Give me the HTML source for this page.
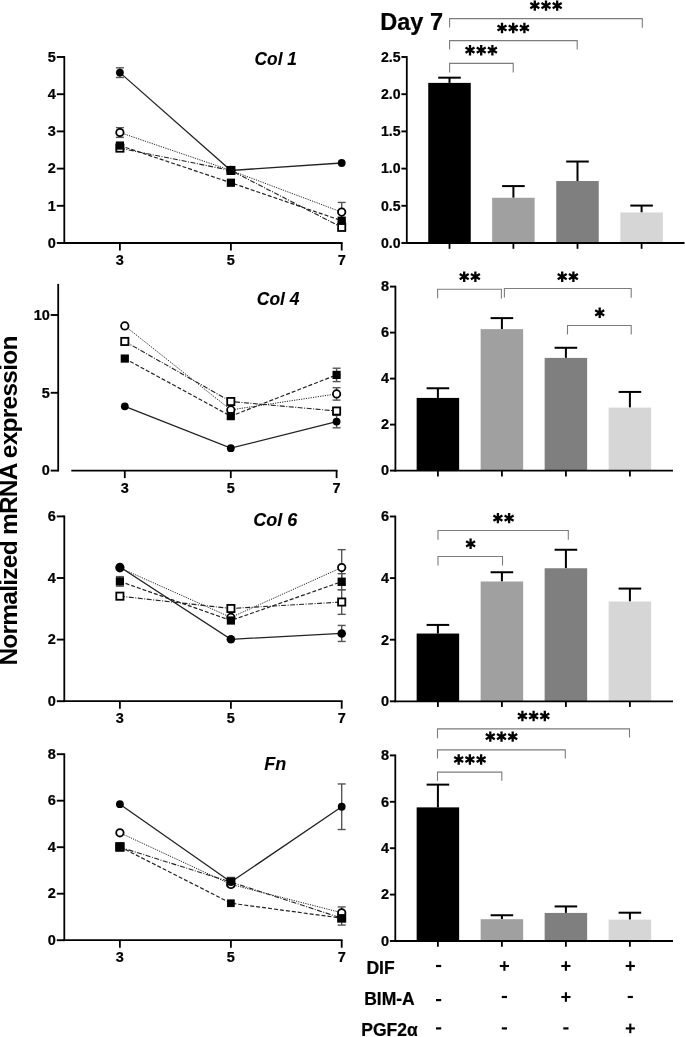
<!DOCTYPE html>
<html><head><meta charset="utf-8"><style>
html,body{margin:0;padding:0;background:#fff;}
body{width:685px;height:1037px;overflow:hidden;}
svg{display:block;will-change:transform;}
</style></head><body>
<svg width="685" height="1037" viewBox="0 0 685 1037" font-family='"Liberation Sans", sans-serif'>
<rect width="685" height="1037" fill="#fff"/>
<line x1="64.3" y1="56.1" x2="64.3" y2="243.9" stroke="#000" stroke-width="1.8" />
<line x1="56.8" y1="243" x2="64.3" y2="243" stroke="#000" stroke-width="1.9" />
<text x="55.9" y="247.7" font-size="14.5" text-anchor="end" font-weight="bold" font-style="normal" stroke="#000" stroke-width="0.22" >0</text>
<line x1="56.8" y1="205.8" x2="64.3" y2="205.8" stroke="#000" stroke-width="1.9" />
<text x="55.9" y="210.5" font-size="14.5" text-anchor="end" font-weight="bold" font-style="normal" stroke="#000" stroke-width="0.22" >1</text>
<line x1="56.8" y1="168.6" x2="64.3" y2="168.6" stroke="#000" stroke-width="1.9" />
<text x="55.9" y="173.3" font-size="14.5" text-anchor="end" font-weight="bold" font-style="normal" stroke="#000" stroke-width="0.22" >2</text>
<line x1="56.8" y1="131.4" x2="64.3" y2="131.4" stroke="#000" stroke-width="1.9" />
<text x="55.9" y="136.1" font-size="14.5" text-anchor="end" font-weight="bold" font-style="normal" stroke="#000" stroke-width="0.22" >3</text>
<line x1="56.8" y1="94.2" x2="64.3" y2="94.2" stroke="#000" stroke-width="1.9" />
<text x="55.9" y="98.9" font-size="14.5" text-anchor="end" font-weight="bold" font-style="normal" stroke="#000" stroke-width="0.22" >4</text>
<line x1="56.8" y1="57" x2="64.3" y2="57" stroke="#000" stroke-width="1.9" />
<text x="55.9" y="61.7" font-size="14.5" text-anchor="end" font-weight="bold" font-style="normal" stroke="#000" stroke-width="0.22" >5</text>
<line x1="63.4" y1="243" x2="342.6" y2="243" stroke="#000" stroke-width="1.8" />
<line x1="119.9" y1="243" x2="119.9" y2="250.5" stroke="#000" stroke-width="1.8" />
<text x="119.9" y="265" font-size="14.5" text-anchor="middle" font-weight="bold" font-style="normal" stroke="#000" stroke-width="0.22" >3</text>
<line x1="230.9" y1="243" x2="230.9" y2="250.5" stroke="#000" stroke-width="1.8" />
<text x="230.9" y="265" font-size="14.5" text-anchor="middle" font-weight="bold" font-style="normal" stroke="#000" stroke-width="0.22" >5</text>
<line x1="341.7" y1="243" x2="341.7" y2="250.5" stroke="#000" stroke-width="1.8" />
<text x="341.7" y="265" font-size="14.5" text-anchor="middle" font-weight="bold" font-style="normal" stroke="#000" stroke-width="0.22" >7</text>
<text x="254.6" y="64.7" font-size="18" font-weight="bold" font-style="italic" stroke="#000" stroke-width="0.1" textLength="42.3" lengthAdjust="spacingAndGlyphs">Col 1</text>
<polyline points="119.9,148.14 230.9,170.46 341.7,227.38" fill="none" stroke="#222" stroke-width="1.1" stroke-dasharray="5 1.5 1 1.5"/>
<polyline points="119.9,145.54 230.9,182.74 341.7,220.68" fill="none" stroke="#222" stroke-width="1.2" stroke-dasharray="4 2"/>
<polyline points="119.9,132.52 230.9,170.46 341.7,212.12" fill="none" stroke="#222" stroke-width="1.0" stroke-dasharray="1.2 1.2"/>
<polyline points="119.9,72.62 230.9,170.46 341.7,163.02" fill="none" stroke="#222" stroke-width="1.3" />
<line x1="119.9" y1="127.68" x2="119.9" y2="137.35" stroke="#555" stroke-width="1.4" />
<line x1="115.9" y1="127.68" x2="123.9" y2="127.68" stroke="#555" stroke-width="1.4" />
<line x1="115.9" y1="137.35" x2="123.9" y2="137.35" stroke="#555" stroke-width="1.4" />
<line x1="341.7" y1="202.45" x2="341.7" y2="221.8" stroke="#555" stroke-width="1.4" />
<line x1="337.7" y1="202.45" x2="345.7" y2="202.45" stroke="#555" stroke-width="1.4" />
<line x1="337.7" y1="221.8" x2="345.7" y2="221.8" stroke="#555" stroke-width="1.4" />
<line x1="119.9" y1="67.79" x2="119.9" y2="77.46" stroke="#555" stroke-width="1.4" />
<line x1="115.9" y1="67.79" x2="123.9" y2="67.79" stroke="#555" stroke-width="1.4" />
<line x1="115.9" y1="77.46" x2="123.9" y2="77.46" stroke="#555" stroke-width="1.4" />
<rect x="116.3" y="144.54" width="7.2" height="7.2" fill="#fff" stroke="#000" stroke-width="1.8"/>
<rect x="227.3" y="166.86" width="7.2" height="7.2" fill="#fff" stroke="#000" stroke-width="1.8"/>
<rect x="338.1" y="223.78" width="7.2" height="7.2" fill="#fff" stroke="#000" stroke-width="1.8"/>
<circle cx="119.9" cy="132.52" r="3.7" fill="#fff" stroke="#000" stroke-width="1.8"/>
<circle cx="230.9" cy="170.46" r="3.7" fill="#fff" stroke="#000" stroke-width="1.8"/>
<circle cx="341.7" cy="212.12" r="3.7" fill="#fff" stroke="#000" stroke-width="1.8"/>
<rect x="115.8" y="141.44" width="8.2" height="8.2" fill="#000"/>
<rect x="226.8" y="178.64" width="8.2" height="8.2" fill="#000"/>
<rect x="337.6" y="216.58" width="8.2" height="8.2" fill="#000"/>
<circle cx="119.9" cy="72.62" r="3.9" fill="#000"/>
<circle cx="230.9" cy="170.46" r="3.9" fill="#000"/>
<circle cx="341.7" cy="163.02" r="3.9" fill="#000"/>
<line x1="58.2" y1="283.88" x2="58.2" y2="471.5" stroke="#000" stroke-width="1.8" />
<line x1="50.7" y1="470.6" x2="58.2" y2="470.6" stroke="#000" stroke-width="1.9" />
<text x="49.8" y="475.3" font-size="14.5" text-anchor="end" font-weight="bold" font-style="normal" stroke="#000" stroke-width="0.22" >0</text>
<line x1="50.7" y1="392.8" x2="58.2" y2="392.8" stroke="#000" stroke-width="1.9" />
<text x="49.8" y="397.5" font-size="14.5" text-anchor="end" font-weight="bold" font-style="normal" stroke="#000" stroke-width="0.22" >5</text>
<line x1="50.7" y1="315" x2="58.2" y2="315" stroke="#000" stroke-width="1.9" />
<text x="49.8" y="319.7" font-size="14.5" text-anchor="end" font-weight="bold" font-style="normal" stroke="#000" stroke-width="0.22" >10</text>
<line x1="71.3" y1="470.6" x2="337.5" y2="470.6" stroke="#000" stroke-width="1.8" />
<line x1="124.8" y1="470.6" x2="124.8" y2="478.1" stroke="#000" stroke-width="1.8" />
<text x="124.8" y="492.6" font-size="14.5" text-anchor="middle" font-weight="bold" font-style="normal" stroke="#000" stroke-width="0.22" >3</text>
<line x1="230.8" y1="470.6" x2="230.8" y2="478.1" stroke="#000" stroke-width="1.8" />
<text x="230.8" y="492.6" font-size="14.5" text-anchor="middle" font-weight="bold" font-style="normal" stroke="#000" stroke-width="0.22" >5</text>
<line x1="336.6" y1="470.6" x2="336.6" y2="478.1" stroke="#000" stroke-width="1.8" />
<text x="336.6" y="492.6" font-size="14.5" text-anchor="middle" font-weight="bold" font-style="normal" stroke="#000" stroke-width="0.22" >7</text>
<text x="256.8" y="304.7" font-size="18" font-weight="bold" font-style="italic" stroke="#000" stroke-width="0.1" textLength="42.6" lengthAdjust="spacingAndGlyphs">Col 4</text>
<polyline points="124.8,341.45 230.8,401.51 336.6,411.01" fill="none" stroke="#222" stroke-width="1.1" stroke-dasharray="5 1.5 1 1.5"/>
<polyline points="124.8,358.57 230.8,416.14 336.6,374.91" fill="none" stroke="#222" stroke-width="1.2" stroke-dasharray="4 2"/>
<polyline points="124.8,325.89 230.8,409.92 336.6,393.89" fill="none" stroke="#222" stroke-width="1.0" stroke-dasharray="1.2 1.2"/>
<polyline points="124.8,406.34 230.8,448.19 336.6,421.59" fill="none" stroke="#222" stroke-width="1.3" />
<line x1="336.6" y1="368.22" x2="336.6" y2="381.6" stroke="#555" stroke-width="1.4" />
<line x1="332.6" y1="368.22" x2="340.6" y2="368.22" stroke="#555" stroke-width="1.4" />
<line x1="332.6" y1="381.6" x2="340.6" y2="381.6" stroke="#555" stroke-width="1.4" />
<line x1="336.6" y1="387.67" x2="336.6" y2="400.11" stroke="#555" stroke-width="1.4" />
<line x1="332.6" y1="387.67" x2="340.6" y2="387.67" stroke="#555" stroke-width="1.4" />
<line x1="332.6" y1="400.11" x2="340.6" y2="400.11" stroke="#555" stroke-width="1.4" />
<line x1="336.6" y1="415.36" x2="336.6" y2="427.81" stroke="#555" stroke-width="1.4" />
<line x1="332.6" y1="415.36" x2="340.6" y2="415.36" stroke="#555" stroke-width="1.4" />
<line x1="332.6" y1="427.81" x2="340.6" y2="427.81" stroke="#555" stroke-width="1.4" />
<rect x="121.2" y="337.85" width="7.2" height="7.2" fill="#fff" stroke="#000" stroke-width="1.8"/>
<rect x="227.2" y="397.91" width="7.2" height="7.2" fill="#fff" stroke="#000" stroke-width="1.8"/>
<rect x="333" y="407.41" width="7.2" height="7.2" fill="#fff" stroke="#000" stroke-width="1.8"/>
<circle cx="124.8" cy="325.89" r="3.7" fill="#fff" stroke="#000" stroke-width="1.8"/>
<circle cx="230.8" cy="409.92" r="3.7" fill="#fff" stroke="#000" stroke-width="1.8"/>
<circle cx="336.6" cy="393.89" r="3.7" fill="#fff" stroke="#000" stroke-width="1.8"/>
<rect x="120.7" y="354.47" width="8.2" height="8.2" fill="#000"/>
<rect x="226.7" y="412.04" width="8.2" height="8.2" fill="#000"/>
<rect x="332.5" y="370.81" width="8.2" height="8.2" fill="#000"/>
<circle cx="124.8" cy="406.34" r="3.9" fill="#000"/>
<circle cx="230.8" cy="448.19" r="3.9" fill="#000"/>
<circle cx="336.6" cy="421.59" r="3.9" fill="#000"/>
<line x1="64.3" y1="515.5" x2="64.3" y2="702.1" stroke="#000" stroke-width="1.8" />
<line x1="56.8" y1="701.2" x2="64.3" y2="701.2" stroke="#000" stroke-width="1.9" />
<text x="55.9" y="705.9" font-size="14.5" text-anchor="end" font-weight="bold" font-style="normal" stroke="#000" stroke-width="0.22" >0</text>
<line x1="56.8" y1="639.6" x2="64.3" y2="639.6" stroke="#000" stroke-width="1.9" />
<text x="55.9" y="644.3" font-size="14.5" text-anchor="end" font-weight="bold" font-style="normal" stroke="#000" stroke-width="0.22" >2</text>
<line x1="56.8" y1="578" x2="64.3" y2="578" stroke="#000" stroke-width="1.9" />
<text x="55.9" y="582.7" font-size="14.5" text-anchor="end" font-weight="bold" font-style="normal" stroke="#000" stroke-width="0.22" >4</text>
<line x1="56.8" y1="516.4" x2="64.3" y2="516.4" stroke="#000" stroke-width="1.9" />
<text x="55.9" y="521.1" font-size="14.5" text-anchor="end" font-weight="bold" font-style="normal" stroke="#000" stroke-width="0.22" >6</text>
<line x1="63.4" y1="701.2" x2="342.6" y2="701.2" stroke="#000" stroke-width="1.8" />
<line x1="119.9" y1="701.2" x2="119.9" y2="708.7" stroke="#000" stroke-width="1.8" />
<text x="119.9" y="723.2" font-size="14.5" text-anchor="middle" font-weight="bold" font-style="normal" stroke="#000" stroke-width="0.22" >3</text>
<line x1="230.9" y1="701.2" x2="230.9" y2="708.7" stroke="#000" stroke-width="1.8" />
<text x="230.9" y="723.2" font-size="14.5" text-anchor="middle" font-weight="bold" font-style="normal" stroke="#000" stroke-width="0.22" >5</text>
<line x1="341.7" y1="701.2" x2="341.7" y2="708.7" stroke="#000" stroke-width="1.8" />
<text x="341.7" y="723.2" font-size="14.5" text-anchor="middle" font-weight="bold" font-style="normal" stroke="#000" stroke-width="0.22" >7</text>
<text x="253.3" y="525.6" font-size="18" font-weight="bold" font-style="italic" stroke="#000" stroke-width="0.1" textLength="44" lengthAdjust="spacingAndGlyphs">Col 6</text>
<polyline points="119.9,596.17 230.9,608.49 341.7,602.02" fill="none" stroke="#222" stroke-width="1.1" stroke-dasharray="5 1.5 1 1.5"/>
<polyline points="119.9,581.39 230.9,620.5 341.7,581.7" fill="none" stroke="#222" stroke-width="1.2" stroke-dasharray="4 2"/>
<polyline points="119.9,567.84 230.9,617.42 341.7,567.53" fill="none" stroke="#222" stroke-width="1.0" stroke-dasharray="1.2 1.2"/>
<polyline points="119.9,567.07 230.9,639.29 341.7,633.44" fill="none" stroke="#222" stroke-width="1.3" />
<line x1="341.7" y1="589.7" x2="341.7" y2="614.34" stroke="#555" stroke-width="1.4" />
<line x1="337.7" y1="589.7" x2="345.7" y2="589.7" stroke="#555" stroke-width="1.4" />
<line x1="337.7" y1="614.34" x2="345.7" y2="614.34" stroke="#555" stroke-width="1.4" />
<line x1="119.9" y1="576.61" x2="119.9" y2="586.16" stroke="#555" stroke-width="1.4" />
<line x1="115.9" y1="576.61" x2="123.9" y2="576.61" stroke="#555" stroke-width="1.4" />
<line x1="115.9" y1="586.16" x2="123.9" y2="586.16" stroke="#555" stroke-width="1.4" />
<line x1="341.7" y1="573.69" x2="341.7" y2="589.7" stroke="#555" stroke-width="1.4" />
<line x1="337.7" y1="573.69" x2="345.7" y2="573.69" stroke="#555" stroke-width="1.4" />
<line x1="337.7" y1="589.7" x2="345.7" y2="589.7" stroke="#555" stroke-width="1.4" />
<line x1="341.7" y1="549.66" x2="341.7" y2="585.39" stroke="#555" stroke-width="1.4" />
<line x1="337.7" y1="549.66" x2="345.7" y2="549.66" stroke="#555" stroke-width="1.4" />
<line x1="337.7" y1="585.39" x2="345.7" y2="585.39" stroke="#555" stroke-width="1.4" />
<line x1="341.7" y1="625.43" x2="341.7" y2="641.45" stroke="#555" stroke-width="1.4" />
<line x1="337.7" y1="625.43" x2="345.7" y2="625.43" stroke="#555" stroke-width="1.4" />
<line x1="337.7" y1="641.45" x2="345.7" y2="641.45" stroke="#555" stroke-width="1.4" />
<rect x="116.3" y="592.57" width="7.2" height="7.2" fill="#fff" stroke="#000" stroke-width="1.8"/>
<rect x="227.3" y="604.89" width="7.2" height="7.2" fill="#fff" stroke="#000" stroke-width="1.8"/>
<rect x="338.1" y="598.42" width="7.2" height="7.2" fill="#fff" stroke="#000" stroke-width="1.8"/>
<circle cx="119.9" cy="567.84" r="3.7" fill="#fff" stroke="#000" stroke-width="1.8"/>
<circle cx="230.9" cy="617.42" r="3.7" fill="#fff" stroke="#000" stroke-width="1.8"/>
<circle cx="341.7" cy="567.53" r="3.7" fill="#fff" stroke="#000" stroke-width="1.8"/>
<rect x="115.8" y="577.29" width="8.2" height="8.2" fill="#000"/>
<rect x="226.8" y="616.4" width="8.2" height="8.2" fill="#000"/>
<rect x="337.6" y="577.6" width="8.2" height="8.2" fill="#000"/>
<circle cx="119.9" cy="567.07" r="4.3" fill="#000"/>
<circle cx="230.9" cy="639.29" r="4.3" fill="#000"/>
<circle cx="341.7" cy="633.44" r="4.3" fill="#000"/>
<line x1="64.3" y1="753.3" x2="64.3" y2="941.1" stroke="#000" stroke-width="1.8" />
<line x1="56.8" y1="940.2" x2="64.3" y2="940.2" stroke="#000" stroke-width="1.9" />
<text x="55.9" y="944.9" font-size="14.5" text-anchor="end" font-weight="bold" font-style="normal" stroke="#000" stroke-width="0.22" >0</text>
<line x1="56.8" y1="893.7" x2="64.3" y2="893.7" stroke="#000" stroke-width="1.9" />
<text x="55.9" y="898.4" font-size="14.5" text-anchor="end" font-weight="bold" font-style="normal" stroke="#000" stroke-width="0.22" >2</text>
<line x1="56.8" y1="847.2" x2="64.3" y2="847.2" stroke="#000" stroke-width="1.9" />
<text x="55.9" y="851.9" font-size="14.5" text-anchor="end" font-weight="bold" font-style="normal" stroke="#000" stroke-width="0.22" >4</text>
<line x1="56.8" y1="800.7" x2="64.3" y2="800.7" stroke="#000" stroke-width="1.9" />
<text x="55.9" y="805.4" font-size="14.5" text-anchor="end" font-weight="bold" font-style="normal" stroke="#000" stroke-width="0.22" >6</text>
<line x1="56.8" y1="754.2" x2="64.3" y2="754.2" stroke="#000" stroke-width="1.9" />
<text x="55.9" y="758.9" font-size="14.5" text-anchor="end" font-weight="bold" font-style="normal" stroke="#000" stroke-width="0.22" >8</text>
<line x1="63.4" y1="940.2" x2="342.6" y2="940.2" stroke="#000" stroke-width="1.8" />
<line x1="119.9" y1="940.2" x2="119.9" y2="947.7" stroke="#000" stroke-width="1.8" />
<text x="119.9" y="962.2" font-size="14.5" text-anchor="middle" font-weight="bold" font-style="normal" stroke="#000" stroke-width="0.22" >3</text>
<line x1="230.9" y1="940.2" x2="230.9" y2="947.7" stroke="#000" stroke-width="1.8" />
<text x="230.9" y="962.2" font-size="14.5" text-anchor="middle" font-weight="bold" font-style="normal" stroke="#000" stroke-width="0.22" >5</text>
<line x1="341.7" y1="940.2" x2="341.7" y2="947.7" stroke="#000" stroke-width="1.8" />
<text x="341.7" y="962.2" font-size="14.5" text-anchor="middle" font-weight="bold" font-style="normal" stroke="#000" stroke-width="0.22" >7</text>
<text x="264.3" y="769.7" font-size="18" font-weight="bold" font-style="italic" stroke="#000" stroke-width="0.1">Fn</text>
<polyline points="119.9,847.2 230.9,882.08 341.7,918.11" fill="none" stroke="#222" stroke-width="1.1" stroke-dasharray="5 1.5 1 1.5"/>
<polyline points="119.9,846.74 230.9,903.23 341.7,918.11" fill="none" stroke="#222" stroke-width="1.2" stroke-dasharray="4 2"/>
<polyline points="119.9,832.79 230.9,884.4 341.7,912.77" fill="none" stroke="#222" stroke-width="1.0" stroke-dasharray="1.2 1.2"/>
<polyline points="119.9,804.19 230.9,882.08 341.7,806.75" fill="none" stroke="#222" stroke-width="1.3" />
<line x1="341.7" y1="911.14" x2="341.7" y2="925.09" stroke="#555" stroke-width="1.4" />
<line x1="337.7" y1="911.14" x2="345.7" y2="911.14" stroke="#555" stroke-width="1.4" />
<line x1="337.7" y1="925.09" x2="345.7" y2="925.09" stroke="#555" stroke-width="1.4" />
<line x1="341.7" y1="906.95" x2="341.7" y2="918.58" stroke="#555" stroke-width="1.4" />
<line x1="337.7" y1="906.95" x2="345.7" y2="906.95" stroke="#555" stroke-width="1.4" />
<line x1="337.7" y1="918.58" x2="345.7" y2="918.58" stroke="#555" stroke-width="1.4" />
<line x1="230.9" y1="877.43" x2="230.9" y2="886.73" stroke="#555" stroke-width="1.4" />
<line x1="226.9" y1="877.43" x2="234.9" y2="877.43" stroke="#555" stroke-width="1.4" />
<line x1="226.9" y1="886.73" x2="234.9" y2="886.73" stroke="#555" stroke-width="1.4" />
<line x1="341.7" y1="783.96" x2="341.7" y2="829.53" stroke="#555" stroke-width="1.4" />
<line x1="337.7" y1="783.96" x2="345.7" y2="783.96" stroke="#555" stroke-width="1.4" />
<line x1="337.7" y1="829.53" x2="345.7" y2="829.53" stroke="#555" stroke-width="1.4" />
<rect x="116.3" y="843.6" width="7.2" height="7.2" fill="#fff" stroke="#000" stroke-width="1.8"/>
<rect x="227.3" y="878.48" width="7.2" height="7.2" fill="#fff" stroke="#000" stroke-width="1.8"/>
<rect x="338.1" y="914.51" width="7.2" height="7.2" fill="#fff" stroke="#000" stroke-width="1.8"/>
<circle cx="119.9" cy="832.79" r="3.7" fill="#fff" stroke="#000" stroke-width="1.8"/>
<circle cx="230.9" cy="884.4" r="3.7" fill="#fff" stroke="#000" stroke-width="1.8"/>
<circle cx="341.7" cy="912.77" r="3.7" fill="#fff" stroke="#000" stroke-width="1.8"/>
<rect x="115.3" y="842.13" width="9.2" height="9.2" fill="#000"/>
<rect x="227.05" y="899.38" width="7.7" height="7.7" fill="#000"/>
<rect x="337.7" y="914.11" width="8" height="8" fill="#000"/>
<circle cx="119.9" cy="804.19" r="3.9" fill="#000"/>
<circle cx="230.9" cy="882.08" r="3.9" fill="#000"/>
<circle cx="341.7" cy="806.75" r="3.9" fill="#000"/>
<line x1="449.5" y1="82.89" x2="449.5" y2="77.68" stroke="#000" stroke-width="2" />
<line x1="438.2" y1="77.68" x2="460.8" y2="77.68" stroke="#000" stroke-width="2" />
<rect x="428.25" y="82.89" width="42.5" height="160.11" fill="#000000"/>
<line x1="513.4" y1="197.76" x2="513.4" y2="186.08" stroke="#000" stroke-width="2" />
<line x1="502.1" y1="186.08" x2="524.7" y2="186.08" stroke="#000" stroke-width="2" />
<rect x="492.15" y="197.76" width="42.5" height="45.24" fill="#a0a0a0"/>
<line x1="577.5" y1="181.02" x2="577.5" y2="161.53" stroke="#000" stroke-width="2" />
<line x1="566.2" y1="161.53" x2="588.8" y2="161.53" stroke="#000" stroke-width="2" />
<rect x="556.25" y="181.02" width="42.5" height="61.98" fill="#7f7f7f"/>
<line x1="641.6" y1="212.5" x2="641.6" y2="205.58" stroke="#000" stroke-width="2" />
<line x1="630.3" y1="205.58" x2="652.9" y2="205.58" stroke="#000" stroke-width="2" />
<rect x="620.35" y="212.5" width="42.5" height="30.5" fill="#d6d6d6"/>
<line x1="406.8" y1="56.1" x2="406.8" y2="243.9" stroke="#000" stroke-width="1.8" />
<line x1="401.4" y1="243" x2="406.8" y2="243" stroke="#000" stroke-width="1.9" />
<text x="400.5" y="247.8" font-size="14.5" text-anchor="end" font-weight="bold" font-style="normal" stroke="#000" stroke-width="0.22" textLength="19.6" lengthAdjust="spacingAndGlyphs">0.0</text>
<line x1="401.4" y1="205.8" x2="406.8" y2="205.8" stroke="#000" stroke-width="1.9" />
<text x="400.5" y="210.6" font-size="14.5" text-anchor="end" font-weight="bold" font-style="normal" stroke="#000" stroke-width="0.22" textLength="19.6" lengthAdjust="spacingAndGlyphs">0.5</text>
<line x1="401.4" y1="168.6" x2="406.8" y2="168.6" stroke="#000" stroke-width="1.9" />
<text x="400.5" y="173.4" font-size="14.5" text-anchor="end" font-weight="bold" font-style="normal" stroke="#000" stroke-width="0.22" textLength="19.6" lengthAdjust="spacingAndGlyphs">1.0</text>
<line x1="401.4" y1="131.4" x2="406.8" y2="131.4" stroke="#000" stroke-width="1.9" />
<text x="400.5" y="136.2" font-size="14.5" text-anchor="end" font-weight="bold" font-style="normal" stroke="#000" stroke-width="0.22" textLength="19.6" lengthAdjust="spacingAndGlyphs">1.5</text>
<line x1="401.4" y1="94.2" x2="406.8" y2="94.2" stroke="#000" stroke-width="1.9" />
<text x="400.5" y="99" font-size="14.5" text-anchor="end" font-weight="bold" font-style="normal" stroke="#000" stroke-width="0.22" textLength="19.6" lengthAdjust="spacingAndGlyphs">2.0</text>
<line x1="401.4" y1="57" x2="406.8" y2="57" stroke="#000" stroke-width="1.9" />
<text x="400.5" y="61.8" font-size="14.5" text-anchor="end" font-weight="bold" font-style="normal" stroke="#000" stroke-width="0.22" textLength="19.6" lengthAdjust="spacingAndGlyphs">2.5</text>
<line x1="405.9" y1="243" x2="684.5" y2="243" stroke="#000" stroke-width="1.8" />
<line x1="449.5" y1="243" x2="449.5" y2="248.8" stroke="#000" stroke-width="1.8" />
<line x1="513.4" y1="243" x2="513.4" y2="248.8" stroke="#000" stroke-width="1.8" />
<line x1="577.5" y1="243" x2="577.5" y2="248.8" stroke="#000" stroke-width="1.8" />
<line x1="641.6" y1="243" x2="641.6" y2="248.8" stroke="#000" stroke-width="1.8" />
<line x1="437.9" y1="397.92" x2="437.9" y2="388.26" stroke="#000" stroke-width="2" />
<line x1="426.6" y1="388.26" x2="449.2" y2="388.26" stroke="#000" stroke-width="2" />
<rect x="416.65" y="397.92" width="42.5" height="72.68" fill="#000000"/>
<line x1="501.9" y1="329.15" x2="501.9" y2="318.11" stroke="#000" stroke-width="2" />
<line x1="490.6" y1="318.11" x2="513.2" y2="318.11" stroke="#000" stroke-width="2" />
<rect x="480.65" y="329.15" width="42.5" height="141.45" fill="#a0a0a0"/>
<line x1="565.9" y1="357.9" x2="565.9" y2="347.78" stroke="#000" stroke-width="2" />
<line x1="554.6" y1="347.78" x2="577.2" y2="347.78" stroke="#000" stroke-width="2" />
<rect x="544.65" y="357.9" width="42.5" height="112.7" fill="#7f7f7f"/>
<line x1="629.9" y1="407.58" x2="629.9" y2="391.94" stroke="#000" stroke-width="2" />
<line x1="618.6" y1="391.94" x2="641.2" y2="391.94" stroke="#000" stroke-width="2" />
<rect x="608.65" y="407.58" width="42.5" height="63.02" fill="#d6d6d6"/>
<line x1="395.4" y1="285.7" x2="395.4" y2="471.5" stroke="#000" stroke-width="1.8" />
<line x1="390" y1="470.6" x2="395.4" y2="470.6" stroke="#000" stroke-width="1.9" />
<text x="389.1" y="475.4" font-size="14.5" text-anchor="end" font-weight="bold" font-style="normal" stroke="#000" stroke-width="0.22" >0</text>
<line x1="390" y1="424.6" x2="395.4" y2="424.6" stroke="#000" stroke-width="1.9" />
<text x="389.1" y="429.4" font-size="14.5" text-anchor="end" font-weight="bold" font-style="normal" stroke="#000" stroke-width="0.22" >2</text>
<line x1="390" y1="378.6" x2="395.4" y2="378.6" stroke="#000" stroke-width="1.9" />
<text x="389.1" y="383.4" font-size="14.5" text-anchor="end" font-weight="bold" font-style="normal" stroke="#000" stroke-width="0.22" >4</text>
<line x1="390" y1="332.6" x2="395.4" y2="332.6" stroke="#000" stroke-width="1.9" />
<text x="389.1" y="337.4" font-size="14.5" text-anchor="end" font-weight="bold" font-style="normal" stroke="#000" stroke-width="0.22" >6</text>
<line x1="390" y1="286.6" x2="395.4" y2="286.6" stroke="#000" stroke-width="1.9" />
<text x="389.1" y="291.4" font-size="14.5" text-anchor="end" font-weight="bold" font-style="normal" stroke="#000" stroke-width="0.22" >8</text>
<line x1="394.5" y1="470.6" x2="673" y2="470.6" stroke="#000" stroke-width="1.8" />
<line x1="437.9" y1="470.6" x2="437.9" y2="476.4" stroke="#000" stroke-width="1.8" />
<line x1="501.9" y1="470.6" x2="501.9" y2="476.4" stroke="#000" stroke-width="1.8" />
<line x1="565.9" y1="470.6" x2="565.9" y2="476.4" stroke="#000" stroke-width="1.8" />
<line x1="629.9" y1="470.6" x2="629.9" y2="476.4" stroke="#000" stroke-width="1.8" />
<line x1="437.9" y1="633.54" x2="437.9" y2="624.92" stroke="#000" stroke-width="2" />
<line x1="426.6" y1="624.92" x2="449.2" y2="624.92" stroke="#000" stroke-width="2" />
<rect x="416.65" y="633.54" width="42.5" height="67.76" fill="#000000"/>
<line x1="501.9" y1="581.49" x2="501.9" y2="572.25" stroke="#000" stroke-width="2" />
<line x1="490.6" y1="572.25" x2="513.2" y2="572.25" stroke="#000" stroke-width="2" />
<rect x="480.65" y="581.49" width="42.5" height="119.81" fill="#a0a0a0"/>
<line x1="565.9" y1="568.24" x2="565.9" y2="549.76" stroke="#000" stroke-width="2" />
<line x1="554.6" y1="549.76" x2="577.2" y2="549.76" stroke="#000" stroke-width="2" />
<rect x="544.65" y="568.24" width="42.5" height="133.06" fill="#7f7f7f"/>
<line x1="629.9" y1="601.51" x2="629.9" y2="588.57" stroke="#000" stroke-width="2" />
<line x1="618.6" y1="588.57" x2="641.2" y2="588.57" stroke="#000" stroke-width="2" />
<rect x="608.65" y="601.51" width="42.5" height="99.79" fill="#d6d6d6"/>
<line x1="395.3" y1="515.6" x2="395.3" y2="702.2" stroke="#000" stroke-width="1.8" />
<line x1="389.9" y1="701.3" x2="395.3" y2="701.3" stroke="#000" stroke-width="1.9" />
<text x="389" y="706.1" font-size="14.5" text-anchor="end" font-weight="bold" font-style="normal" stroke="#000" stroke-width="0.22" >0</text>
<line x1="389.9" y1="639.7" x2="395.3" y2="639.7" stroke="#000" stroke-width="1.9" />
<text x="389" y="644.5" font-size="14.5" text-anchor="end" font-weight="bold" font-style="normal" stroke="#000" stroke-width="0.22" >2</text>
<line x1="389.9" y1="578.1" x2="395.3" y2="578.1" stroke="#000" stroke-width="1.9" />
<text x="389" y="582.9" font-size="14.5" text-anchor="end" font-weight="bold" font-style="normal" stroke="#000" stroke-width="0.22" >4</text>
<line x1="389.9" y1="516.5" x2="395.3" y2="516.5" stroke="#000" stroke-width="1.9" />
<text x="389" y="521.3" font-size="14.5" text-anchor="end" font-weight="bold" font-style="normal" stroke="#000" stroke-width="0.22" >6</text>
<line x1="394.4" y1="701.3" x2="673" y2="701.3" stroke="#000" stroke-width="1.8" />
<line x1="437.9" y1="701.3" x2="437.9" y2="707.1" stroke="#000" stroke-width="1.8" />
<line x1="501.9" y1="701.3" x2="501.9" y2="707.1" stroke="#000" stroke-width="1.8" />
<line x1="565.9" y1="701.3" x2="565.9" y2="707.1" stroke="#000" stroke-width="1.8" />
<line x1="629.9" y1="701.3" x2="629.9" y2="707.1" stroke="#000" stroke-width="1.8" />
<line x1="437.9" y1="807.37" x2="437.9" y2="784.63" stroke="#000" stroke-width="2" />
<line x1="426.6" y1="784.63" x2="449.2" y2="784.63" stroke="#000" stroke-width="2" />
<rect x="416.65" y="807.37" width="42.5" height="133.63" fill="#000000"/>
<line x1="501.9" y1="919.19" x2="501.9" y2="915.25" stroke="#000" stroke-width="2" />
<line x1="490.6" y1="915.25" x2="513.2" y2="915.25" stroke="#000" stroke-width="2" />
<rect x="480.65" y="919.19" width="42.5" height="21.81" fill="#a0a0a0"/>
<line x1="565.9" y1="912.93" x2="565.9" y2="906.43" stroke="#000" stroke-width="2" />
<line x1="554.6" y1="906.43" x2="577.2" y2="906.43" stroke="#000" stroke-width="2" />
<rect x="544.65" y="912.93" width="42.5" height="28.07" fill="#7f7f7f"/>
<line x1="629.9" y1="919.66" x2="629.9" y2="912.7" stroke="#000" stroke-width="2" />
<line x1="618.6" y1="912.7" x2="641.2" y2="912.7" stroke="#000" stroke-width="2" />
<rect x="608.65" y="919.66" width="42.5" height="21.34" fill="#d6d6d6"/>
<line x1="395.3" y1="754.5" x2="395.3" y2="941.9" stroke="#000" stroke-width="1.8" />
<line x1="389.9" y1="941" x2="395.3" y2="941" stroke="#000" stroke-width="1.9" />
<text x="389" y="945.8" font-size="14.5" text-anchor="end" font-weight="bold" font-style="normal" stroke="#000" stroke-width="0.22" >0</text>
<line x1="389.9" y1="894.6" x2="395.3" y2="894.6" stroke="#000" stroke-width="1.9" />
<text x="389" y="899.4" font-size="14.5" text-anchor="end" font-weight="bold" font-style="normal" stroke="#000" stroke-width="0.22" >2</text>
<line x1="389.9" y1="848.2" x2="395.3" y2="848.2" stroke="#000" stroke-width="1.9" />
<text x="389" y="853" font-size="14.5" text-anchor="end" font-weight="bold" font-style="normal" stroke="#000" stroke-width="0.22" >4</text>
<line x1="389.9" y1="801.8" x2="395.3" y2="801.8" stroke="#000" stroke-width="1.9" />
<text x="389" y="806.6" font-size="14.5" text-anchor="end" font-weight="bold" font-style="normal" stroke="#000" stroke-width="0.22" >6</text>
<line x1="389.9" y1="755.4" x2="395.3" y2="755.4" stroke="#000" stroke-width="1.9" />
<text x="389" y="760.2" font-size="14.5" text-anchor="end" font-weight="bold" font-style="normal" stroke="#000" stroke-width="0.22" >8</text>
<line x1="394.4" y1="941" x2="673" y2="941" stroke="#000" stroke-width="1.8" />
<line x1="437.9" y1="941" x2="437.9" y2="946.8" stroke="#000" stroke-width="1.8" />
<line x1="501.9" y1="941" x2="501.9" y2="946.8" stroke="#000" stroke-width="1.8" />
<line x1="565.9" y1="941" x2="565.9" y2="946.8" stroke="#000" stroke-width="1.8" />
<line x1="629.9" y1="941" x2="629.9" y2="946.8" stroke="#000" stroke-width="1.8" />
<path d="M449.6,27.6V18.6H642.3V27.8" fill="none" stroke="#7c7c7c" stroke-width="1.1"/>
<path d="M534.8,10.8L534.8,0.4M530.3,8.2L539.3,3M530.3,3L539.3,8.2" stroke="#000" stroke-width="2.3" fill="none"/>
<path d="M546,10.8L546,0.4M541.5,8.2L550.5,3M541.5,3L550.5,8.2" stroke="#000" stroke-width="2.3" fill="none"/>
<path d="M557.2,10.8L557.2,0.4M552.7,8.2L561.7,3M552.7,3L561.7,8.2" stroke="#000" stroke-width="2.3" fill="none"/>
<path d="M449.6,49.4V40.6H577.2V49.4" fill="none" stroke="#7c7c7c" stroke-width="1.1"/>
<path d="M502,33.2L502,22.8M497.5,30.6L506.5,25.4M497.5,25.4L506.5,30.6" stroke="#000" stroke-width="2.3" fill="none"/>
<path d="M513.2,33.2L513.2,22.8M508.7,30.6L517.7,25.4M508.7,25.4L517.7,30.6" stroke="#000" stroke-width="2.3" fill="none"/>
<path d="M524.4,33.2L524.4,22.8M519.9,30.6L528.9,25.4M519.9,25.4L528.9,30.6" stroke="#000" stroke-width="2.3" fill="none"/>
<path d="M449.6,72.6V63.4H513.2V72.6" fill="none" stroke="#7c7c7c" stroke-width="1.1"/>
<path d="M470,55.4L470,45M465.5,52.8L474.5,47.6M465.5,47.6L474.5,52.8" stroke="#000" stroke-width="2.3" fill="none"/>
<path d="M481.2,55.4L481.2,45M476.7,52.8L485.7,47.6M476.7,47.6L485.7,52.8" stroke="#000" stroke-width="2.3" fill="none"/>
<path d="M492.4,55.4L492.4,45M487.9,52.8L496.9,47.6M487.9,47.6L496.9,52.8" stroke="#000" stroke-width="2.3" fill="none"/>
<path d="M437.6,298.2V289.2H501.4V298.4" fill="none" stroke="#7c7c7c" stroke-width="1.1"/>
<path d="M464.2,281.9L464.2,271.5M459.7,279.3L468.7,274.1M459.7,274.1L468.7,279.3" stroke="#000" stroke-width="2.3" fill="none"/>
<path d="M475.4,281.9L475.4,271.5M470.9,279.3L479.9,274.1M470.9,274.1L479.9,279.3" stroke="#000" stroke-width="2.3" fill="none"/>
<path d="M504.4,297.5V288.5H631.2V297.7" fill="none" stroke="#7c7c7c" stroke-width="1.1"/>
<path d="M562.2,281.9L562.2,271.5M557.7,279.3L566.7,274.1M557.7,274.1L566.7,279.3" stroke="#000" stroke-width="2.3" fill="none"/>
<path d="M573.4,281.9L573.4,271.5M568.9,279.3L577.9,274.1M568.9,274.1L577.9,279.3" stroke="#000" stroke-width="2.3" fill="none"/>
<path d="M567.5,334.5V325.5H631.2V334.5" fill="none" stroke="#7c7c7c" stroke-width="1.1"/>
<path d="M599.7,318L599.7,307.6M595.2,315.4L604.2,310.2M595.2,310.2L604.2,315.4" stroke="#000" stroke-width="2.3" fill="none"/>
<path d="M438,539.8V530.5H568.3V539.8" fill="none" stroke="#7c7c7c" stroke-width="1.1"/>
<path d="M497.9,523.3L497.9,512.9M493.4,520.7L502.4,515.5M493.4,515.5L502.4,520.7" stroke="#000" stroke-width="2.3" fill="none"/>
<path d="M509.1,523.3L509.1,512.9M504.6,520.7L513.6,515.5M504.6,515.5L513.6,520.7" stroke="#000" stroke-width="2.3" fill="none"/>
<path d="M438,565.5V556.5H502.5V565.5" fill="none" stroke="#7c7c7c" stroke-width="1.1"/>
<path d="M470.6,549L470.6,538.6M466.1,546.4L475.1,541.2M466.1,541.2L475.1,546.4" stroke="#000" stroke-width="2.3" fill="none"/>
<path d="M437.5,738.2V728.9H629.5V737.4" fill="none" stroke="#7c7c7c" stroke-width="1.1"/>
<path d="M522.4,721.2L522.4,710.8M517.9,718.6L526.9,713.4M517.9,713.4L526.9,718.6" stroke="#000" stroke-width="2.3" fill="none"/>
<path d="M533.6,721.2L533.6,710.8M529.1,718.6L538.1,713.4M529.1,713.4L538.1,718.6" stroke="#000" stroke-width="2.3" fill="none"/>
<path d="M544.8,721.2L544.8,710.8M540.3,718.6L549.3,713.4M540.3,713.4L549.3,718.6" stroke="#000" stroke-width="2.3" fill="none"/>
<path d="M437.5,758.5V749.9H565.3V758.5" fill="none" stroke="#7c7c7c" stroke-width="1.1"/>
<path d="M490.3,741.8L490.3,731.4M485.8,739.2L494.8,734M485.8,734L494.8,739.2" stroke="#000" stroke-width="2.3" fill="none"/>
<path d="M501.5,741.8L501.5,731.4M497,739.2L506,734M497,734L506,739.2" stroke="#000" stroke-width="2.3" fill="none"/>
<path d="M512.7,741.8L512.7,731.4M508.2,739.2L517.2,734M508.2,734L517.2,739.2" stroke="#000" stroke-width="2.3" fill="none"/>
<path d="M437.5,780.7V772.1H501.8V780.7" fill="none" stroke="#7c7c7c" stroke-width="1.1"/>
<path d="M458.7,764.7L458.7,754.3M454.2,762.1L463.2,756.9M454.2,756.9L463.2,762.1" stroke="#000" stroke-width="2.3" fill="none"/>
<path d="M469.9,764.7L469.9,754.3M465.4,762.1L474.4,756.9M465.4,756.9L474.4,762.1" stroke="#000" stroke-width="2.3" fill="none"/>
<path d="M481.1,764.7L481.1,754.3M476.6,762.1L485.6,756.9M476.6,756.9L485.6,762.1" stroke="#000" stroke-width="2.3" fill="none"/>
<text x="380.3" y="29.8" font-size="23.5" text-anchor="start" font-weight="bold" font-style="normal" stroke="#000" stroke-width="0.22" >Day 7</text>
<text transform="translate(17,665.6) rotate(-90)" font-size="24.5" font-weight="bold" text-anchor="start" textLength="330" lengthAdjust="spacing" id="ylab">Normalized mRNA expression</text>
<text x="380.5" y="973.6" font-size="17.5" text-anchor="middle" font-weight="bold" font-style="normal" stroke="#000" stroke-width="0.22" >DIF</text>
<line x1="436" y1="966" x2="441.2" y2="966" stroke="#000" stroke-width="2.2" />
<line x1="499.8" y1="966" x2="509" y2="966" stroke="#000" stroke-width="2.1" />
<line x1="504.4" y1="961.2" x2="504.4" y2="970.8" stroke="#000" stroke-width="2.1" />
<line x1="561.3" y1="966" x2="570.5" y2="966" stroke="#000" stroke-width="2.1" />
<line x1="565.9" y1="961.2" x2="565.9" y2="970.8" stroke="#000" stroke-width="2.1" />
<line x1="625.7" y1="966" x2="634.9" y2="966" stroke="#000" stroke-width="2.1" />
<line x1="630.3" y1="961.2" x2="630.3" y2="970.8" stroke="#000" stroke-width="2.1" />
<text x="389.5" y="1004.8" font-size="17.5" text-anchor="middle" font-weight="bold" font-style="normal" stroke="#000" stroke-width="0.22" >BIM-A</text>
<line x1="436" y1="1000.1" x2="441.2" y2="1000.1" stroke="#000" stroke-width="2.2" />
<line x1="501.8" y1="997" x2="507" y2="997" stroke="#000" stroke-width="2.2" />
<line x1="561.3" y1="997" x2="570.5" y2="997" stroke="#000" stroke-width="2.1" />
<line x1="565.9" y1="992.2" x2="565.9" y2="1001.8" stroke="#000" stroke-width="2.1" />
<line x1="627.7" y1="997" x2="632.9" y2="997" stroke="#000" stroke-width="2.2" />
<text x="389.5" y="1036" font-size="17.5" text-anchor="middle" font-weight="bold" font-style="normal" stroke="#000" stroke-width="0.22" >PGF2α</text>
<line x1="436" y1="1028.4" x2="441.2" y2="1028.4" stroke="#000" stroke-width="2.2" />
<line x1="501.8" y1="1028.4" x2="507" y2="1028.4" stroke="#000" stroke-width="2.2" />
<line x1="563.3" y1="1028.4" x2="568.5" y2="1028.4" stroke="#000" stroke-width="2.2" />
<line x1="625.7" y1="1028.4" x2="634.9" y2="1028.4" stroke="#000" stroke-width="2.1" />
<line x1="630.3" y1="1023.6" x2="630.3" y2="1033.2" stroke="#000" stroke-width="2.1" />
</svg>
</body></html>
